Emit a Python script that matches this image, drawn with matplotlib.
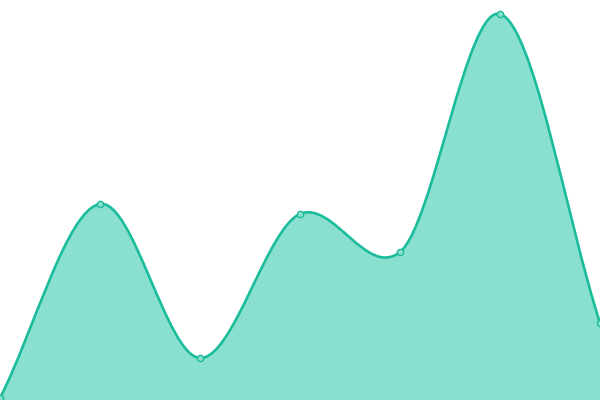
import numpy as np
import matplotlib
matplotlib.use("Agg")
import matplotlib.pyplot as plt
from matplotlib.path import Path
from matplotlib.patches import PathPatch

# data
x_vals = [0, 100, 200, 300, 400, 500, 600]
y_vals = [2, 196, 42, 186, 148, 386, 77]

line_color = "#1abc9c"
fill_color = "#8ae0d0"


def smooth_path(xs, ys, close=False, k=0.8):
    xs = np.asarray(xs, float)
    ys = np.asarray(ys, float)
    n = len(xs)
    # catmull-rom style tangents, a bit flattened
    m = np.zeros(n)
    for i in range(n):
        if i == 0:
            m[i] = (ys[1] - ys[0]) / (xs[1] - xs[0])
        elif i == n - 1:
            m[i] = (ys[-1] - ys[-2]) / (xs[-1] - xs[-2])
        else:
            m[i] = k * (ys[i + 1] - ys[i - 1]) / (xs[i + 1] - xs[i - 1])
    verts = [(xs[0], ys[0])]
    codes = [Path.MOVETO]
    for i in range(n - 1):
        dx = (xs[i + 1] - xs[i]) / 3.0
        verts += [(xs[i] + dx, ys[i] + m[i] * dx),
                  (xs[i + 1] - dx, ys[i + 1] - m[i + 1] * dx),
                  (xs[i + 1], ys[i + 1])]
        codes += [Path.CURVE4] * 3
    if close:
        verts += [(xs[-1], 0), (xs[0], 0), (xs[0], ys[0])]
        codes += [Path.LINETO, Path.LINETO, Path.CLOSEPOLY]
    return Path(verts, codes)


fig = plt.figure(figsize=(6, 4), dpi=100)
ax = fig.add_axes([0, 0, 1, 1])
ax.set_xlim(0, 600)
ax.set_ylim(0, 400)
ax.axis("off")

ax.add_patch(PathPatch(smooth_path(x_vals, y_vals, close=True),
                       facecolor=fill_color, edgecolor="none"))
ax.add_patch(PathPatch(smooth_path(x_vals, y_vals), facecolor="none",
                       edgecolor=line_color, lw=1.9, capstyle="round"))
ax.plot(x_vals, y_vals, "o", ms=4.5, mfc=fill_color, mec=line_color,
        mew=1.0, clip_on=False)

fig.savefig("out.png", dpi=100)
